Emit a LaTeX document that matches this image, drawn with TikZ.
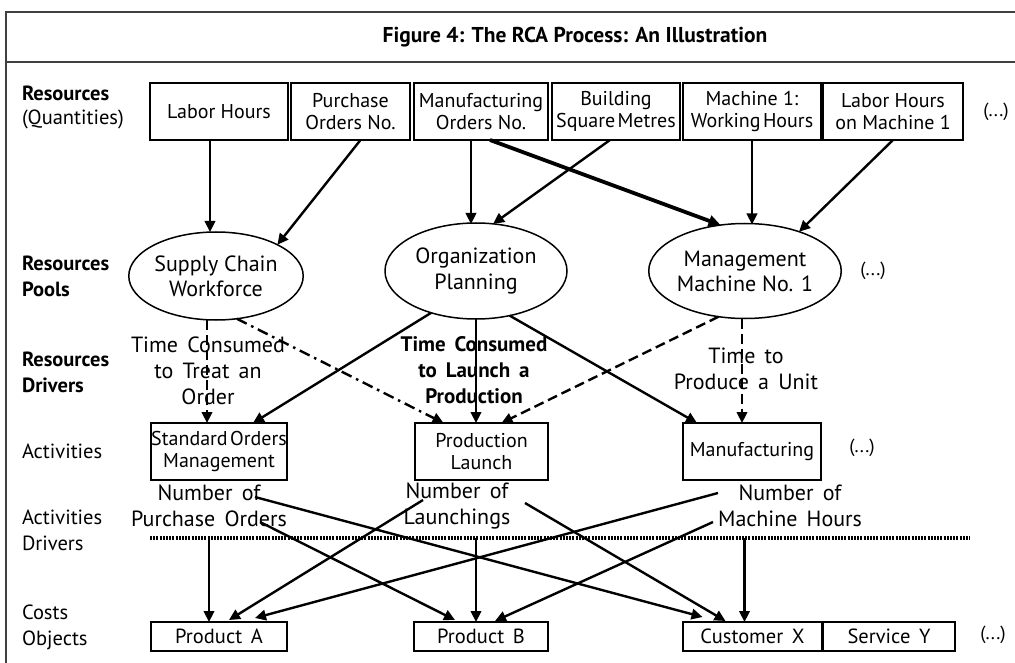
\documentclass[tikz,border=0pt]{standalone}
\usepackage{fontspec}
\setmainfont{PT Sans}
\usetikzlibrary{arrows.meta,calc,shapes.geometric}
\newcommand{\widespace}{\spaceskip=0.42em plus 0.1em\relax}
\newcommand{\tightspace}{\spaceskip=0.12em\relax}
\begin{document}
\begin{tikzpicture}[x=1pt,y=-1pt,
  every node/.style={inner sep=0pt, outer sep=0pt},
  frameline/.style={line width=1.1pt, draw=black!75},
  box/.style={draw, line width=1.9pt, align=center, minimum height=57pt,
    font=\fontsize{20}{22}\selectfont},
  costbox/.style={draw, line width=1.9pt, align=center, minimum height=29pt,
    font=\fontsize{20.5}{22}\selectfont\widespace},
  pool/.style={draw, ellipse, line width=1.5pt, align=center,
    font=\fontsize{22}{25}\selectfont},
  rowlabel/.style={anchor=west, align=left, font=\fontsize{20.5}{26}\selectfont},
  driver/.style={align=center, font=\fontsize{22}{26}\selectfont\widespace},
  more/.style={font=\fontsize{19}{20}\selectfont},
  arr/.style={line width=2.4pt, -{Triangle[length=11pt,width=10.5pt]}},
  heavyarr/.style={line width=3.8pt, -{Triangle[length=12pt,width=11pt]}},
  dasharr/.style={arr, dash pattern=on 10pt off 5pt},
  dashdotarr/.style={arr, dash pattern=on 11pt off 5pt on 2.5pt off 5pt},
  dotline/.style={line width=3.2pt, dash pattern=on 2pt off 1.2pt}
]
\useasboundingbox (0,0) rectangle (1015,663);

% outer frame and title band
\draw[frameline] (1016,12) -- (6,12) -- (6,664);
\draw[frameline] (6,62) -- (1016,62);
\node[font=\bfseries\fontsize{21.5}{24}\selectfont] (title) at (575,37)
  {Figure 4: The RCA Process: An Illustration};

% row labels
\node[rowlabel, font=\fontsize{20.5}{24}\selectfont] (lres) at (22,107)
  {\textbf{Resources}\\(Quantities)};
\node[rowlabel] (lpool) at (22,276) {\textbf{Resources}\\\textbf{Pools}};
\node[rowlabel] (ldrv) at (22,372) {\textbf{Resources}\\\textbf{Drivers}};
\node[rowlabel] (lact) at (22,451) {Activities};
\node[rowlabel] (ladrv) at (22,530) {Activities\\Drivers};
\node[rowlabel] (lcost) at (22,627) {Costs\\Objects};

% resources
\node[box, minimum width=138pt] (lh) at (219,111.5) {Labor Hours};
\node[box, minimum width=119pt] (po) at (350.5,111.5) {Purchase\\Orders No.};
\node[box, minimum width=134pt] (mo) at (481,111.5) {Manufacturing\\Orders No.};
\node[box, minimum width=128pt] (bs) at (616,111.5) {Building\\{\tightspace Square Metres}};
\node[box, minimum width=138pt] (mw) at (752,111.5) {Machine 1:\\{\tightspace Working Hours}};
\node[box, minimum width=140pt] (lm) at (893,111.5) {Labor Hours\\on Machine 1};
\node[more] (m1) at (996,112) {(...)};

% resource pools
\node[pool, minimum width=147pt, minimum height=88pt] (sc) at (216,276)
  {Supply Chain\\Workforce};
\node[pool, minimum width=182pt, minimum height=96pt] (op) at (476,271)
  {Organization\\Planning};
\node[pool, minimum width=185pt, minimum height=95pt] (mm) at (745,271)
  {Management\\Machine No. 1};
\node[more] (m2) at (873,271) {(...)};

% activities
\node[box, minimum width=136pt] (so) at (219,451.5)
  {{\tightspace Standard Orders}\\Management};
\node[box, minimum width=133pt] (pl) at (481.5,451.5) {Production\\Launch};
\node[box, minimum width=138pt] (mf) at (752,451.5) {Manufacturing};
\node[more] (m3) at (862,448) {(...)};

% cost objects
\node[costbox, minimum width=136pt] (pa) at (219,636.5) {Product A};
\node[costbox, minimum width=134pt] (pb) at (481,636.5) {Product B};
\node[costbox, minimum width=139pt] (cx) at (752.5,636.5) {Customer X};
\node[costbox, minimum width=132pt] (sy) at (889,636.5) {Service Y};
\node[more] (m4) at (993,635) {(...)};

% resources -> pools
\coordinate (lhout) at ($(lh.south)+(-9,0)$);
\draw[arr] (lhout) -- (lhout |- sc.north);
\draw[arr] ($(po.south)+(10,0)$) -- (sc.27);
\coordinate (moout) at ($(mo.south)+(-10,0)$);
\draw[arr] (moout) -- ($(moout |- op.north)+(0,1)$);
\draw[heavyarr] ($(mo.south)+(9,0)$) -- (mm.118);
\draw[arr] ($(bs.south)+(-6,0)$) -- (op.70);
\draw[arr] (mw.south) -- ($(mw.south |- mm.north)+(0,1)$);
\draw[arr] (lm.south) -- (mm.36);

% resource drivers
\node[driver] (d1) at (208,371) {Time Consumed\\to Treat an\\Order};
\node[driver, font=\bfseries\fontsize{21}{26}\selectfont\widespace] (d2) at (474,370)
  {Time Consumed\\to Launch a\\Production};
\node[driver] (d3) at (746,369) {Time to\\Produce a Unit};

% pools -> activities
\coordinate (soin) at ($(so.north)+(-12,0)$);
\draw[dasharr] (soin |- sc.south) -- (soin);
\draw[dashdotarr] (sc.-64) -- ($(pl.north)+(-38,0)$);
\draw[arr] (op.223) -- ($(so.north)+(34,0)$);
\draw[arr] (op.south) -- (op.south |- pl.north);
\draw[arr] (op.-53) -- ($(mf.north)+(-55,0)$);
\draw[dasharr] (mm.-120) -- ($(pl.north)+(20,0)$);
\coordinate (mfin) at ($(mf.north)+(-10,0)$);
\draw[dasharr] (mfin |- mm.south) -- (mfin);

% activity drivers
\node[driver] (npo) at (209,506) {Number of\\Purchase Orders};
\node[driver] (nl) at (457,506) {Number of\\Launchings};
\node[driver] (nmh) at (790,506) {Number of\\Machine Hours};
\coordinate (dl) at (150,538);
\coordinate (dr) at (970,538);
\draw[dotline] (dl) -- (dr);

% activities -> cost objects
\coordinate (pain) at ($(pa.north)+(-10,0)$);
\draw[arr] (pain |- dl) -- (pain);
\coordinate (pbin) at ($(pb.north)+(-5,0)$);
\draw[arr] (pbin |- dl) -- (pbin);
\coordinate (cxin) at ($(cx.north)+(-8,0)$);
\draw[arr] (cxin |- dl) -- (cxin);
\draw[arr] ($(npo.center)+(46,-9)$) -- ($(cx.north)+(-50,-5)$);
\draw[arr] ($(npo.center)+(51,16)$) -- ($(pb.north)+(-26,-2)$);
\draw[arr] ($(nl.center)+(-34,-6)$) -- ($(pa.north)+(10,-2)$);
\draw[arr] ($(nl.center)+(68,-3)$) -- ($(cx.north)+(-27,-1)$);
\draw[arr] ($(nmh.center)+(-72,-13)$) -- ($(pa.north)+(36,-4)$);
\draw[arr] ($(nmh.center)+(-77,16)$) -- ($(pb.north)+(14,-1)$);
\end{tikzpicture}
\end{document}
